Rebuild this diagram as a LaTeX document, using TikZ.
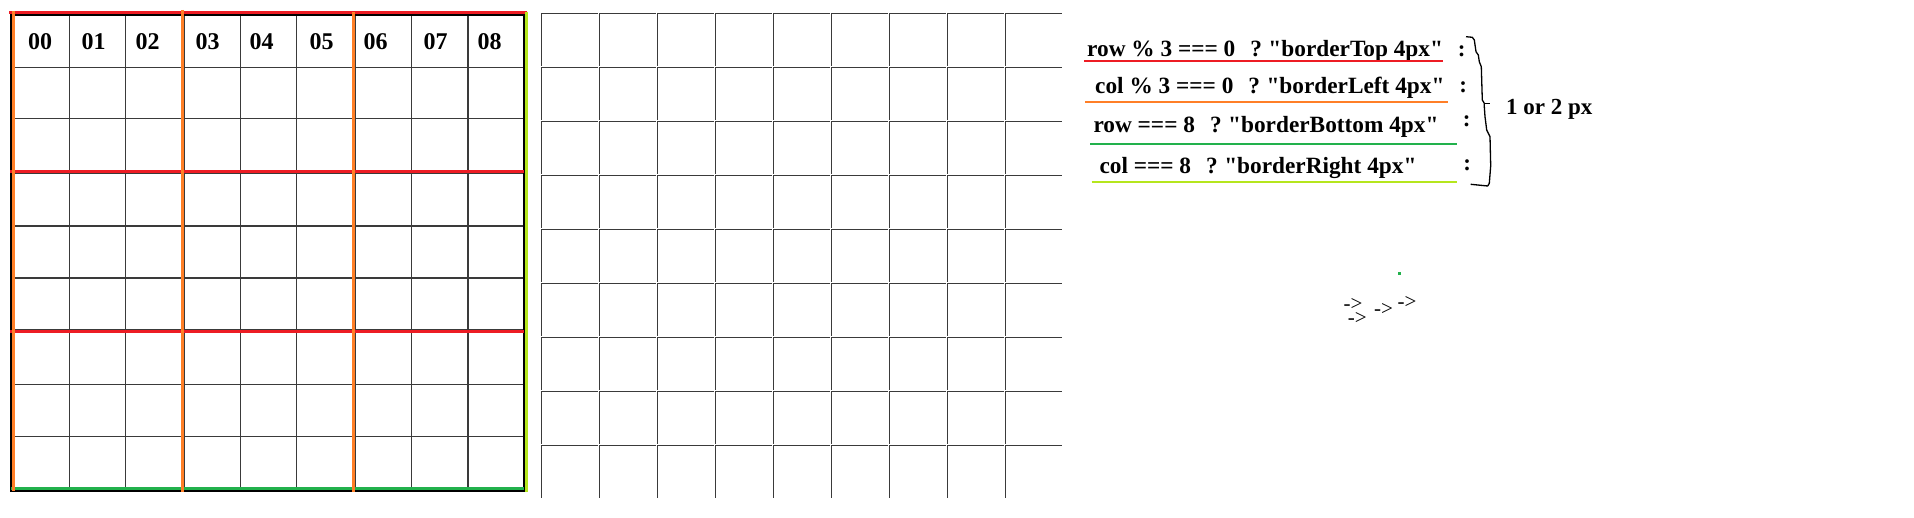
\documentclass[tikz,border=0pt]{standalone}
\usepackage{fontspec}
\setmainfont{Liberation Serif}[Ligatures=TeXOff]
\definecolor{pred}{HTML}{ED1C24}
\definecolor{porange}{HTML}{FF7F27}
\definecolor{pgreen}{HTML}{22B14C}
\definecolor{plime}{HTML}{B5E61D}
\definecolor{gridgray}{HTML}{3A3A3A}
\tikzset{
  gline/.style={draw=gridgray, line width=1pt},
  gthick/.style={draw=gridgray, line width=1.8pt},
  outerborder/.style={draw=black, line width=2.2pt},
  cellline/.style={draw=gridgray, line width=0.95pt},
  redline/.style={draw=pred, line width=2.6pt},
  orangeline/.style={draw=porange, line width=2.6pt},
  greenline/.style={draw=pgreen, line width=2.4pt},
  limeline/.style={draw=plime, line width=2.6pt},
  digit/.style={font=\fontsize{24}{28}\selectfont\bfseries, inner sep=0pt, anchor=center},
  codetxt/.style={font=\fontsize{23.3}{27}\selectfont\bfseries, inner sep=0pt, anchor=base west},
  colontxt/.style={font=\fontsize{23}{27}\selectfont\bfseries, inner sep=0pt, anchor=base},
  arrowtxt/.style={font=\fontsize{21}{25}\selectfont, inner sep=0pt, anchor=base west},
  bracepath/.style={draw=black, line width=1.3pt, line join=round},
}
\begin{document}
\begin{tikzpicture}[x=1pt,y=-1pt]
\useasboundingbox (0,0) rectangle (1914,518);
\fill[white] (0,0) rectangle (1914,518);

% ---- left grid ----
\foreach \x in {69.3,125.3,184,240.3,296.3,355.3,411.3}
  \draw[gline] (\x,14.7) -- (\x,490.8);
\draw[gthick] (468,14.7) -- (468,490.8);
\foreach \y in {67.3,119,173.7,384.3,436.3}
  \draw[gline] (11,\y) -- (524,\y);
\foreach \y in {225.7,277.7,329.7}
  \draw[gthick] (11,\y) -- (524,\y);
\draw[outerborder] (11,14.7) rectangle (524,490.8);
\draw[redline] (9,12.5) -- (527,12.5);
\draw[redline] (10,171.7) -- (524,171.7);
\draw[redline] (10,331.3) -- (524,331.3);
\draw[greenline] (11,488.3) -- (524,488.3);
\draw[orangeline] (13.3,11.3) -- (13.3,490.7);
\draw[orangeline] (182.3,10) -- (182.3,492);
\draw[orangeline] (353.3,12) -- (353.3,492);
\draw[limeline] (526.3,11.7) -- (526.3,492);

\foreach \t/\x in {00/40,01/93.7,02/147.7,03/207.7,04/261.7,05/321.7,06/375.7,07/435.7,08/489.7}
  \node[digit] (d\t) at (\x,41.5) {\t};

% ---- right grid ----
\foreach \i in {0,...,8}
  \foreach \j in {0,...,8} {
    \draw[cellline] ({541+58*\i},{13.3+54*\j}) -- ++(56.6,0);
    \draw[cellline] ({541+58*\i},{13.3+54*\j}) -- ++(0,52.6);
  }

% ---- code lines ----
\node[codetxt] (t1) at (1087,56.7) {row \% 3 === 0\hspace*{15pt}?\hspace*{6.5pt}"borderTop 4px"};
\node[codetxt] (t2) at (1095,94) {col \% 3 === 0\hspace*{15pt}?\hspace*{6.5pt}"borderLeft 4px"};
\node[codetxt] (t3) at (1093.3,132.3) {row === 8\hspace*{15pt}?\hspace*{6.5pt}"borderBottom 4px"};
\node[codetxt] (t4) at (1099.3,173.3) {col === 8\hspace*{15pt}?\hspace*{6.5pt}"borderRight 4px"};

\draw[redline, line width=2.2pt] (1084,61.3) -- (1442.7,61.3);
\draw[orangeline, line width=2.2pt] (1085,102) -- (1447.7,102);
\draw[greenline, line width=2.3pt] (1090,144.3) -- (1456.7,144.3);
\draw[limeline, line width=2.3pt] (1091.7,182.3) -- (1456.7,182.3);

\node[colontxt] (c1) at (1461.7,56.2) {:};
\node[colontxt] (c2) at (1463.3,92.2) {:};
\node[colontxt] (c3) at (1466.7,126.2) {:};
\node[colontxt] (c4) at (1467.3,170.5) {:};

% ---- brace ----
\draw[bracepath] (1466,36.7) -- (1472.3,37.3) -- (1474.3,40) -- (1476,51.7) -- (1478.3,55)
  -- (1479.3,61.7) -- (1481.3,66.7) -- (1482.3,100) -- (1484.3,103.3) -- (1484.3,106.7)
  -- (1485,116.7) -- (1486.7,130) -- (1490,136.7) -- (1490.7,165.7) -- (1489.3,183.3)
  -- (1487.7,186) -- (1470.7,184.3);
\draw[bracepath] (1484.3,103.3) -- (1490,103.3);
\node[codetxt, font=\fontsize{23}{27}\selectfont\bfseries] (px) at (1506,115) {1 or 2 px};

% ---- small marks ----
\fill[pgreen] (1397.7,271.8) rectangle (1400.7,274.8);
\node[arrowtxt] (a1) at (1343.3,310.7) {->};
\node[arrowtxt] (a2) at (1347.7,325) {->};
\node[arrowtxt] (a3) at (1374,316) {->};
\node[arrowtxt] (a4) at (1397.3,308.3) {->};
\end{tikzpicture}
\end{document}
